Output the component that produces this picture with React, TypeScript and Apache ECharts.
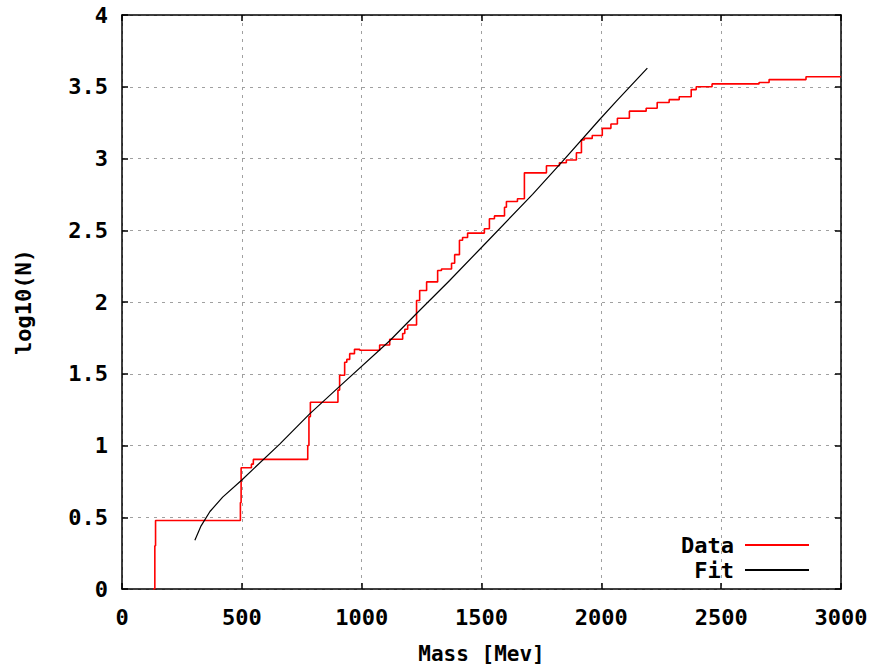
import React, { useEffect, useRef } from "react";
import * as echarts from "echarts";

// Cumulative count of states: [mass (MeV), log10(N)] step points
const dataMass = [130, 137, 140, 494, 497, 540, 548, 775, 780, 786, 901, 908, 929, 938, 950, 970, 992, 1075, 1117, 1171, 1180, 1192, 1229, 1242, 1271, 1317, 1333, 1375, 1388, 1408, 1421, 1442, 1512, 1533, 1554, 1596, 1604, 1650, 1679, 1771, 1825, 1854, 1896, 1917, 1929, 1962, 2004, 2040, 2067, 2117, 2187, 2233, 2283, 2325, 2375, 2396, 2462, 2658, 2700, 2854, 3000];
const dataLogN = [0, 0.301, 0.477, 0.602, 0.845, 0.87, 0.903, 1.0, 1.2, 1.301, 1.386, 1.49, 1.58, 1.60, 1.64, 1.67, 1.664, 1.70, 1.74, 1.78, 1.81, 1.84, 2.01, 2.08, 2.14, 2.22, 2.23, 2.27, 2.33, 2.43, 2.45, 2.48, 2.51, 2.58, 2.60, 2.66, 2.70, 2.72, 2.90, 2.95, 2.97, 2.99, 3.04, 3.13, 3.14, 3.16, 3.21, 3.24, 3.28, 3.33, 3.35, 3.39, 3.41, 3.43, 3.48, 3.50, 3.52, 3.53, 3.55, 3.57, 3.57];

// Fit curve
const fitMass = [304, 330, 367, 420, 500, 658, 783, 900, 1117, 1229, 1367, 1500, 1713, 1838, 1992, 2063, 2192];
const fitLogN = [0.34, 0.44, 0.54, 0.64, 0.76, 1.01, 1.22, 1.40, 1.73, 1.92, 2.15, 2.38, 2.75, 2.98, 3.27, 3.40, 3.63];

const seriesNames = ["Data", "Fit"];
const xTitle = "Mass [Mev]";
const yTitle = "log10(N)";

const FONT = "DejaVu Sans Mono";

export default function App() {
  const ref = useRef<HTMLDivElement>(null);
  useEffect(() => {
    if (!ref.current) return;
    const chart = echarts.init(ref.current, null, { renderer: "svg" });
    const labelStyle = { color: "#000", fontFamily: FONT, fontWeight: "bold" as const, fontSize: 22 };
    const split = { show: true, lineStyle: { color: "#a0a0a0", type: [3, 5] as any, width: 1 } };
    const line = { show: true, onZero: false, lineStyle: { color: "#000", width: 1.5 } };
    const tick = { show: true, inside: true, length: 6, lineStyle: { color: "#000", width: 1.5 } };
    chart.setOption({
      animation: false,
      backgroundColor: "#fff",
      grid: { left: 122, right: 48, top: 15, bottom: 78, outerBoundsMode: "none", containLabel: false },
      legend: {
        orient: "vertical",
        right: 75,
        top: 529,
        align: "right",
        itemWidth: 64,
        itemHeight: 2,
        itemGap: 3,
        icon: "rect",
        textStyle: { ...labelStyle, padding: [0, 6, 0, 0] },
        data: seriesNames,
      },
      xAxis: [
        {
          type: "value",
          min: 0,
          max: 3000,
          interval: 500,
          name: xTitle,
          nameLocation: "middle",
          nameGap: 56,
          nameTextStyle: { ...labelStyle, fontSize: 21, lineHeight: 18 },
          axisLabel: { ...labelStyle, margin: 17, formatter: (v: number) => String(v) },
          axisLine: line,
          axisTick: tick,
          splitLine: split,
        },
        {
          type: "value",
          position: "top",
          min: 0,
          max: 3000,
          interval: 500,
          axisLabel: { show: false },
          axisLine: line,
          axisTick: tick,
          splitLine: { show: false },
        },
      ],
      yAxis: [
        {
          type: "value",
          min: 0,
          max: 4,
          interval: 0.5,
          name: yTitle,
          nameLocation: "middle",
          nameGap: 88,
          nameTextStyle: labelStyle,
          axisLabel: { ...labelStyle, margin: 14, formatter: (v: number) => String(v) },
          axisLine: line,
          axisTick: tick,
          splitLine: split,
        },
        {
          type: "value",
          position: "right",
          min: 0,
          max: 4,
          interval: 0.5,
          axisLabel: { show: false },
          axisLine: line,
          axisTick: tick,
          splitLine: { show: false },
        },
      ],
      series: [
        {
          name: seriesNames[0],
          type: "line",
          step: "end",
          symbol: "none",
          color: "#ff0000",
          lineStyle: { color: "#ff0000", width: 1.6 },
          data: dataMass.map((m, i) => [m, dataLogN[i]]),
        },
        {
          name: seriesNames[1],
          type: "line",
          symbol: "none",
          color: "#000000",
          lineStyle: { color: "#000000", width: 1.2 },
          data: fitMass.map((m, i) => [m, fitLogN[i]]),
        },
      ],
    });
    return () => chart.dispose();
  }, []);
  return <div ref={ref} style={{ width: 889, height: 667, position: "absolute", left: 0, top: 0 }} />;
}
